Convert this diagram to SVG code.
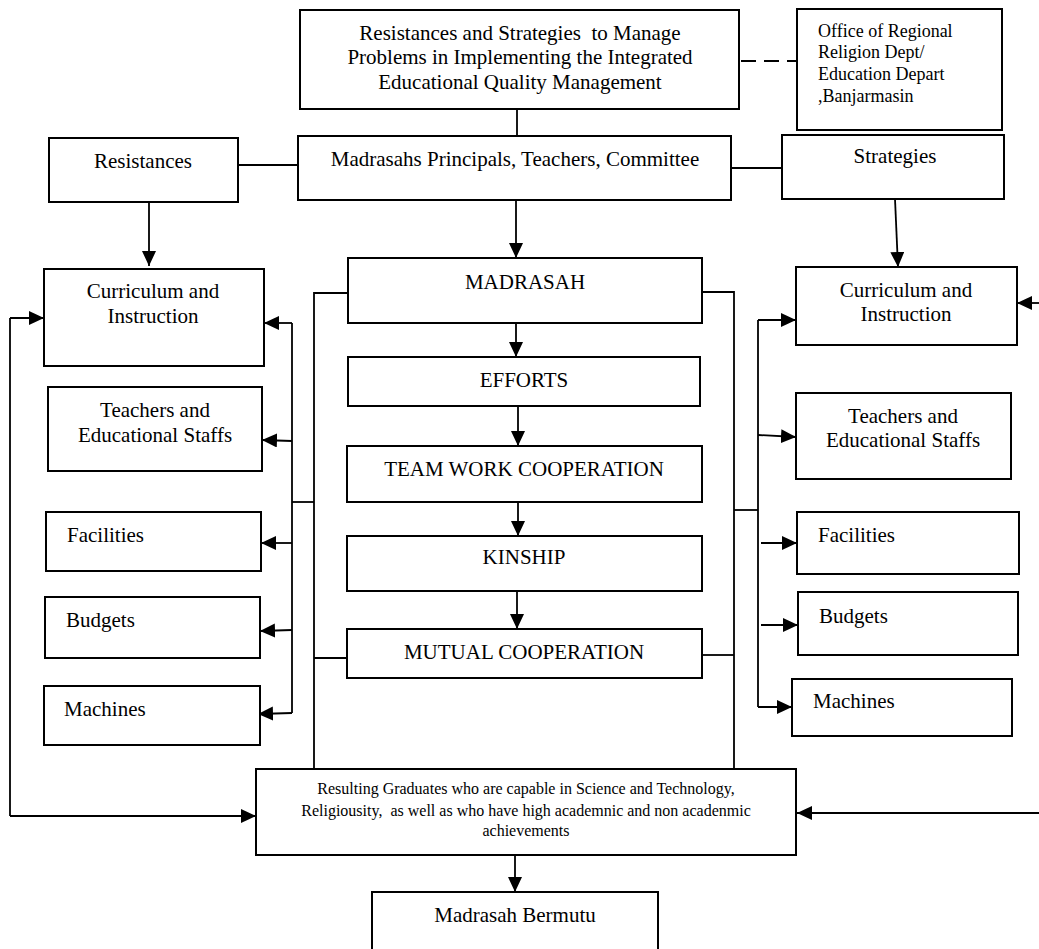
<svg xmlns="http://www.w3.org/2000/svg" width="1039" height="949" viewBox="0 0 1039 949">
  <style>
    .box { fill: #fff; stroke: #000; stroke-width: 2; }
    .t { font-family: "Liberation Serif", "Times New Roman", serif; font-size: 21px; fill: #000; }
    .s { font-size: 18px; }
    .xs { font-size: 16px; }
    .c { text-anchor: middle; }
    .pre { white-space: pre; }
    .ln { fill: none; stroke: #000; stroke-width: 1.8; }
    .arr { marker-end: url(#head); }
    .dash { stroke-dasharray: 15 8; stroke-width: 2; }
  </style>
  <defs>
    <marker id="head" markerUnits="userSpaceOnUse" markerWidth="16" markerHeight="15" refX="15" refY="7" orient="auto">
      <path d="M0,0 L15,7 L0,14 z" fill="#000"/>
    </marker>
  </defs>
  <rect width="1039" height="949" fill="#fff"/>

  <!-- connectors -->
  <g id="connectors">
    <!-- top section -->
    <line class="ln dash" x1="741" y1="61" x2="797" y2="61"/>
    <line class="ln" x1="517" y1="109" x2="517" y2="136"/>
    <line class="ln" x1="238" y1="165" x2="298" y2="165"/>
    <line class="ln" x1="731" y1="168" x2="782" y2="168"/>
    <line class="ln arr" x1="149" y1="202" x2="149" y2="266"/>
    <line class="ln arr" x1="516" y1="200" x2="516" y2="258"/>
    <line class="ln arr" x1="895" y1="199" x2="898" y2="267"/>

    <!-- central chain -->
    <line class="ln arr" x1="516" y1="323" x2="516" y2="357"/>
    <line class="ln arr" x1="518" y1="406" x2="518" y2="446"/>
    <line class="ln arr" x1="518" y1="498" x2="518" y2="536"/>
    <line class="ln arr" x1="517" y1="591" x2="517" y2="629"/>

    <!-- left bracket from MADRASAH / MUTUAL COOPERATION -->
    <polyline class="ln" points="348,293 314,293 314,769"/>
    <line class="ln" x1="314" y1="658" x2="347" y2="658"/>
    <line class="ln" x1="314" y1="502" x2="292" y2="502"/>
    <line class="ln" x1="292" y1="323" x2="292" y2="713"/>
    <line class="ln arr" x1="292" y1="323" x2="264" y2="323"/>
    <line class="ln arr" x1="292" y1="441" x2="262" y2="440"/>
    <line class="ln arr" x1="292" y1="543" x2="261" y2="543"/>
    <line class="ln arr" x1="292" y1="630" x2="260" y2="631"/>
    <line class="ln arr" x1="292" y1="713" x2="258" y2="714"/>

    <!-- right bracket from MADRASAH / MUTUAL COOPERATION -->
    <polyline class="ln" points="702,292 734,292 734,769"/>
    <line class="ln" x1="702" y1="655" x2="734" y2="655"/>
    <line class="ln" x1="734" y1="510" x2="758" y2="510"/>
    <line class="ln" x1="758" y1="320" x2="758" y2="707"/>
    <line class="ln arr" x1="758" y1="320" x2="796" y2="320"/>
    <line class="ln arr" x1="758" y1="435" x2="796" y2="437"/>
    <line class="ln arr" x1="761" y1="543" x2="797" y2="543"/>
    <line class="ln arr" x1="761" y1="625" x2="798" y2="625"/>
    <line class="ln arr" x1="758" y1="707" x2="792" y2="707"/>

    <!-- outer loops -->
    <polyline class="ln" points="10,816 10,318"/>
    <line class="ln arr" x1="10" y1="318" x2="44" y2="318"/>
    <line class="ln arr" x1="10" y1="816" x2="256" y2="816"/>
    <line class="ln arr" x1="1039" y1="303" x2="1017" y2="303"/>
    <line class="ln arr" x1="1039" y1="813" x2="797" y2="813"/>

    <!-- to Madrasah Bermutu -->
    <line class="ln arr" x1="515" y1="855" x2="515" y2="892"/>
  </g>

  <g id="title">
    <rect class="box" x="300" y="10" width="439" height="99"/>
    <text class="t c pre" x="520" y="40">Resistances and Strategies  to Manage</text>
    <text class="t c" x="520" y="64">Problems in Implementing the Integrated</text>
    <text class="t c" x="520" y="89">Educational Quality Management</text>
  </g>

  <g id="office">
    <rect class="box" x="797" y="9" width="205" height="121"/>
    <text class="t s" x="818" y="37">Office of Regional</text>
    <text class="t s" x="818" y="58">Religion Dept/</text>
    <text class="t s" x="818" y="80">Education Depart</text>
    <text class="t s" x="818" y="102">,Banjarmasin</text>
  </g>

  <g id="resistances">
    <rect class="box" x="49" y="138" width="189" height="64"/>
    <text class="t c" x="143" y="168">Resistances</text>
  </g>

  <g id="actors">
    <rect class="box" x="298" y="136" width="433" height="64"/>
    <text class="t c" x="515" y="166">Madrasahs Principals, Teachers, Committee</text>
  </g>

  <g id="strategies">
    <rect class="box" x="782" y="135" width="222" height="64"/>
    <text class="t c" x="895" y="163">Strategies</text>
  </g>

  <g id="madrasah">
    <rect class="box" x="348" y="258" width="354" height="65"/>
    <text class="t c" x="525" y="289">MADRASAH</text>
  </g>

  <g id="efforts">
    <rect class="box" x="348" y="357" width="352" height="49"/>
    <text class="t c" x="524" y="387">EFFORTS</text>
  </g>

  <g id="team-work">
    <rect class="box" x="347" y="446" width="355" height="56"/>
    <text class="t c" x="524" y="476">TEAM WORK COOPERATION</text>
  </g>

  <g id="kinship">
    <rect class="box" x="347" y="536" width="355" height="55"/>
    <text class="t c" x="524" y="564">KINSHIP</text>
  </g>

  <g id="mutual">
    <rect class="box" x="347" y="629" width="355" height="49"/>
    <text class="t c" x="524" y="659">MUTUAL COOPERATION</text>
  </g>

  <!-- left column -->
  <g id="curriculum-left">
    <rect class="box" x="44" y="269" width="220" height="97"/>
    <text class="t c" x="153" y="298">Curriculum and</text>
    <text class="t c" x="153" y="323">Instruction</text>
  </g>
  <g id="teachers-left">
    <rect class="box" x="48" y="387" width="214" height="84"/>
    <text class="t c" x="155" y="417">Teachers and</text>
    <text class="t c" x="155" y="442">Educational Staffs</text>
  </g>
  <g id="facilities-left">
    <rect class="box" x="46" y="512" width="215" height="59"/>
    <text class="t" x="67" y="542">Facilities</text>
  </g>
  <g id="budgets-left">
    <rect class="box" x="45" y="597" width="215" height="61"/>
    <text class="t" x="66" y="627">Budgets</text>
  </g>
  <g id="machines-left">
    <rect class="box" x="44" y="686" width="216" height="59"/>
    <text class="t" x="64" y="716">Machines</text>
  </g>

  <!-- right column -->
  <g id="curriculum-right">
    <rect class="box" x="796" y="267" width="221" height="78"/>
    <text class="t c" x="906" y="297">Curriculum and</text>
    <text class="t c" x="906" y="321">Instruction</text>
  </g>
  <g id="teachers-right">
    <rect class="box" x="796" y="393" width="215" height="86"/>
    <text class="t c" x="903" y="423">Teachers and</text>
    <text class="t c" x="903" y="447">Educational Staffs</text>
  </g>
  <g id="facilities-right">
    <rect class="box" x="797" y="512" width="222" height="62"/>
    <text class="t" x="818" y="542">Facilities</text>
  </g>
  <g id="budgets-right">
    <rect class="box" x="798" y="592" width="220" height="63"/>
    <text class="t" x="819" y="623">Budgets</text>
  </g>
  <g id="machines-right">
    <rect class="box" x="792" y="679" width="220" height="57"/>
    <text class="t" x="813" y="708">Machines</text>
  </g>

  <g id="graduates">
    <rect class="box" x="256" y="769" width="540" height="86"/>
    <text class="t xs c" x="526" y="794">Resulting Graduates who are capable in Science and Technology,</text>
    <text class="t xs c pre" x="526" y="816">Religiousity,  as well as who have high academnic and non acadenmic</text>
    <text class="t xs c" x="526" y="836">achievements</text>
  </g>

  <g id="bermutu">
    <rect class="box" x="372" y="892" width="286" height="70"/>
    <text class="t c" x="515" y="922">Madrasah Bermutu</text>
  </g>
</svg>
